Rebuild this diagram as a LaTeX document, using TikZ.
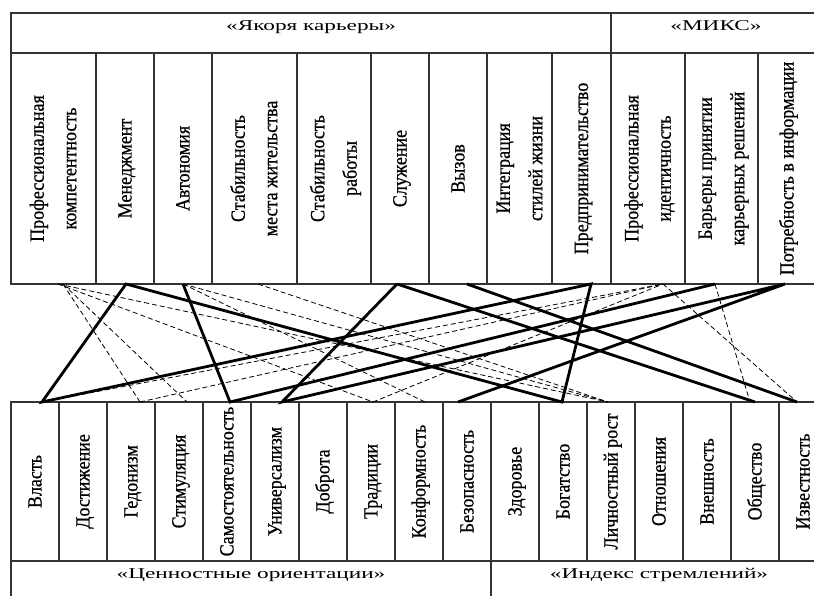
\documentclass[tikz,border=0pt]{standalone}
\usepackage{fontspec}
\setmainfont{Liberation Serif}
\newfontfamily\cellfont[BoldFont={Liberation Serif}, BoldFeatures={FakeBold=0.7}]{Liberation Serif}
\usepackage{graphicx}

\tikzset{
  cell/.style={draw=black!80, line width=1.1pt, inner sep=0pt, outer sep=0pt, anchor=north west},
  headtext/.style={anchor=base, inner sep=0pt, font=\cellfont\mdseries\fontsize{15}{17}\selectfont},
  solidlink/.style={line width=2.8pt},
  dashlink/.style={line width=0.8pt, dash pattern=on 5pt off 3pt},
}
% vertical text in a cell, horizontal (wide) text in a header
\newcommand{\vtxt}[1]{\rotatebox{90}{\scalebox{1}[1.12]{\begin{tabular}{@{}c@{}}#1\end{tabular}}}}
\newcommand{\htxt}[1]{\scalebox{1.55}[1]{#1}}

\begin{document}
\begin{tikzpicture}[x=1pt, y=-1pt, font=\cellfont\bfseries\fontsize{18}{29}\selectfont]
  \useasboundingbox (0,0) rectangle (814,596);
  \clip (0,0) rectangle (814,596);

  % top table: headers
  \node[cell, minimum width=600pt, minimum height=40pt] (anchors) at (11,13) {};
  \node[cell, minimum width=205pt, minimum height=40pt] (miks) at (611,13) {};
  \node[headtext] (anchors-txt) at (311,31) {\htxt{«Якоря карьеры»}};
  \node[headtext] (miks-txt) at (716,31) {\htxt{«МИКС»}};

  % top table: cells
  \foreach \x/\w/\n/\t in {11/85/1/{Профессиональная\\компетентность},
      96/58/2/Менеджмент, 154/58/3/Автономия,
      212/85/4/{Стабильность\\места жительства}, 297/74/5/{Стабильность\\работы},
      371/58/6/Служение, 429/58/7/Вызов, 487/65/8/{Интеграция\\стилей жизни},
      552/59/9/Предпринимательство, 611/74/10/{Профессиональная\\идентичность},
      685/73/11/{Барьеры принятии\\карьерных решений}, 758/58/12/{Потребность в информации}}
    \node[cell, minimum width=\w pt, minimum height=231pt] (t\n) at (\x,53) {\vtxt{\t}};

  % bottom table: cells
  \foreach \n/\t in {1/Власть, 2/Достижение, 3/Гедонизм, 4/Стимуляция,
      5/Самостоятельность, 6/Универсализм, 7/Доброта, 8/Традиции,
      9/Конформность, 10/Безопасность, 11/Здоровье, 12/Богатство,
      13/Личностный рост, 14/Отношения, 15/Внешность, 16/Общество, 17/Известность}
    \node[cell, minimum width=48pt, minimum height=159pt] (b\n) at ({11+48*(\n-1)},402) {\vtxt{\t}};

  % bottom table: headers
  \node[cell, minimum width=480pt, minimum height=45pt] (values) at (11,561) {};
  \node[cell, minimum width=340pt, minimum height=45pt] (index) at (491,561) {};
  \node[headtext] (values-txt) at (251,578) {\htxt{«Ценностные ориентации»}};
  \node[headtext] (index-txt) at (659,578) {\htxt{«Индекс стремлений»}};

  % strong links
  \draw[solidlink] ([xshift=1pt]t2.south) -- ([xshift=7pt]b1.north)
    -- ([xshift=9.5pt]t9.south) -- ([xshift=-1pt]b12.north) -- cycle;
  \draw[solidlink] (t3.south) -- ([xshift=3pt]b5.north) -- ([xshift=-6.5pt]t11.south);
  \draw[solidlink] ([xshift=-3pt]t6.south) -- ([xshift=7pt]b6.north)
    -- ([xshift=-2pt]t12.south) -- ([xshift=-9pt]b10.north);
  \draw[solidlink] ([xshift=-3pt]t6.south) -- (b16.north);
  \draw[solidlink] ([xshift=9pt]t7.south) -- ([xshift=-6pt]b17.north);

  % weak links
  \draw[dashlink] ([xshift=9.5pt]t1.south) -- ([xshift=9pt]b3.north);
  \draw[dashlink] ([xshift=9.5pt]t1.south) -- ([xshift=8pt]b4.north);
  \draw[dashlink] ([xshift=4.5pt]t1.south) -- ([xshift=2pt]b8.north) -- ([xshift=15pt]t10.south);
  \draw[dashlink] ([xshift=4.5pt]t1.south) -- ([xshift=-3pt]b13.north);
  \draw[dashlink] (t3.south) -- ([xshift=6pt]b9.north);
  \draw[dashlink] (t3.south) -- ([xshift=-3pt]b13.north);
  \draw[dashlink] ([xshift=3.5pt]t4.south) -- ([xshift=-3pt]b13.north);
  \draw[dashlink] ([xshift=7pt]b1.north) -- ([xshift=15pt]t10.south) -- ([xshift=-6pt]b17.north);
  \draw[dashlink] ([xshift=9pt]b3.north) -- ([xshift=15pt]t10.south);
  \draw[dashlink] ([xshift=-6.5pt]t11.south) -- ([xshift=-5pt]b16.north);
\end{tikzpicture}
\end{document}
